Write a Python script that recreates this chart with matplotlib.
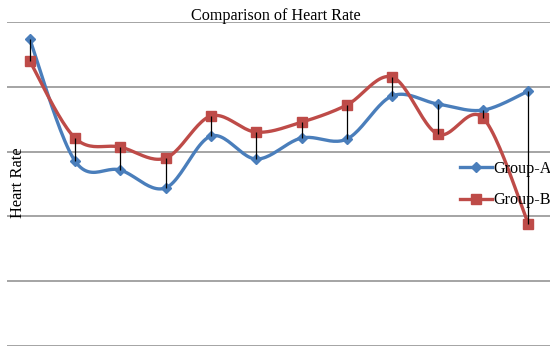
import numpy as np
import matplotlib
matplotlib.use("Agg")
from matplotlib import pyplot as plt
from matplotlib.lines import Line2D

samples = list(range(1, 13))
group_a = [94.8, 57.1, 54.3, 48.8, 64.8, 57.7, 64.2, 63.9, 77.2, 74.7, 72.8, 78.7]
group_b = [88.0, 64.2, 61.4, 58.0, 71.0, 66.0, 69.1, 74.4, 83.0, 65.4, 70.4, 37.7]

BLUE = "#4a7ebb"
RED = "#be4b48"

plt.rcParams['font.family'] = ['Liberation Serif', 'DejaVu Serif']


def smooth(xs, ys, steps=24):
    # catmull-rom curve through the points, like a spreadsheet "smoothed line"
    xs = np.asarray(xs, float)
    ys = np.asarray(ys, float)
    px = np.concatenate([[xs[0]], xs, [xs[-1]]])
    py = np.concatenate([[ys[0]], ys, [ys[-1]]])
    out_x, out_y = [], []
    t = np.linspace(0, 1, steps, endpoint=False)
    for i in range(1, len(px) - 2):
        for p, out in ((px, out_x), (py, out_y)):
            p0, p1, p2, p3 = p[i - 1], p[i], p[i + 1], p[i + 2]
            c1 = p1 + (p2 - p0) / 6
            c2 = p2 - (p3 - p1) / 6
            out.extend((1 - t) ** 3 * p1 + 3 * (1 - t) ** 2 * t * c1
                       + 3 * (1 - t) * t ** 2 * c2 + t ** 3 * p2)
    out_x.append(xs[-1])
    out_y.append(ys[-1])
    return out_x, out_y


fig = plt.figure(figsize=(5.5, 3.47), dpi=100)
ax = fig.add_axes([7 / 550, 1 / 347, 544 / 550, 324 / 347])

x = np.arange(len(samples))
ax.set_xlim(-0.5, len(samples) - 0.5)
ax.set_ylim(0, 100)
ax.set_yticks(np.arange(0, 101, 20))
ax.yaxis.grid(True, color="#8c8c8c", linewidth=1.1)
ax.set_axisbelow(True)
ax.tick_params(left=False, bottom=False, labelleft=False, labelbottom=False)
for s in ax.spines.values():
    s.set_visible(False)

sx, sy = smooth(x, group_a)
ax.plot(sx, sy, color=BLUE, linewidth=2.4, zorder=3)
ax.plot(x, group_a, linestyle="none", marker="D", markersize=5.5, color=BLUE, zorder=4)

sx, sy = smooth(x, group_b)
ax.plot(sx, sy, color=RED, linewidth=2.4, zorder=3)
ax.plot(x, group_b, linestyle="none", marker="s", markersize=7.5, color=RED, zorder=4)

# high-low lines between the two groups
ax.vlines(x, np.minimum(group_a, group_b), np.maximum(group_a, group_b),
          color="black", linewidth=0.9, zorder=5)

fig.text(276 / 550, 1 - 16 / 347, "Comparison of Heart Rate", ha="center", va="center", fontsize=11.6)
fig.text(18 / 550, 1 - 183 / 347, "Heart Rate", rotation=90, ha="center", va="center", fontsize=11.8)

handles = [
    Line2D([], [], color=BLUE, linewidth=2.4, marker="D", markersize=5.5),
    Line2D([], [], color=RED, linewidth=2.4, marker="s", markersize=7.5),
]
fig.legend(handles, ["Group-A", "Group-B"], loc="upper left",
           bbox_to_anchor=(460 / 550, 1 - 161 / 347), frameon=False,
           fontsize=11.6, handlelength=2.0, handletextpad=0.1,
           labelspacing=0.95, borderpad=0, borderaxespad=0)

fig.savefig("out.png", dpi=100)
